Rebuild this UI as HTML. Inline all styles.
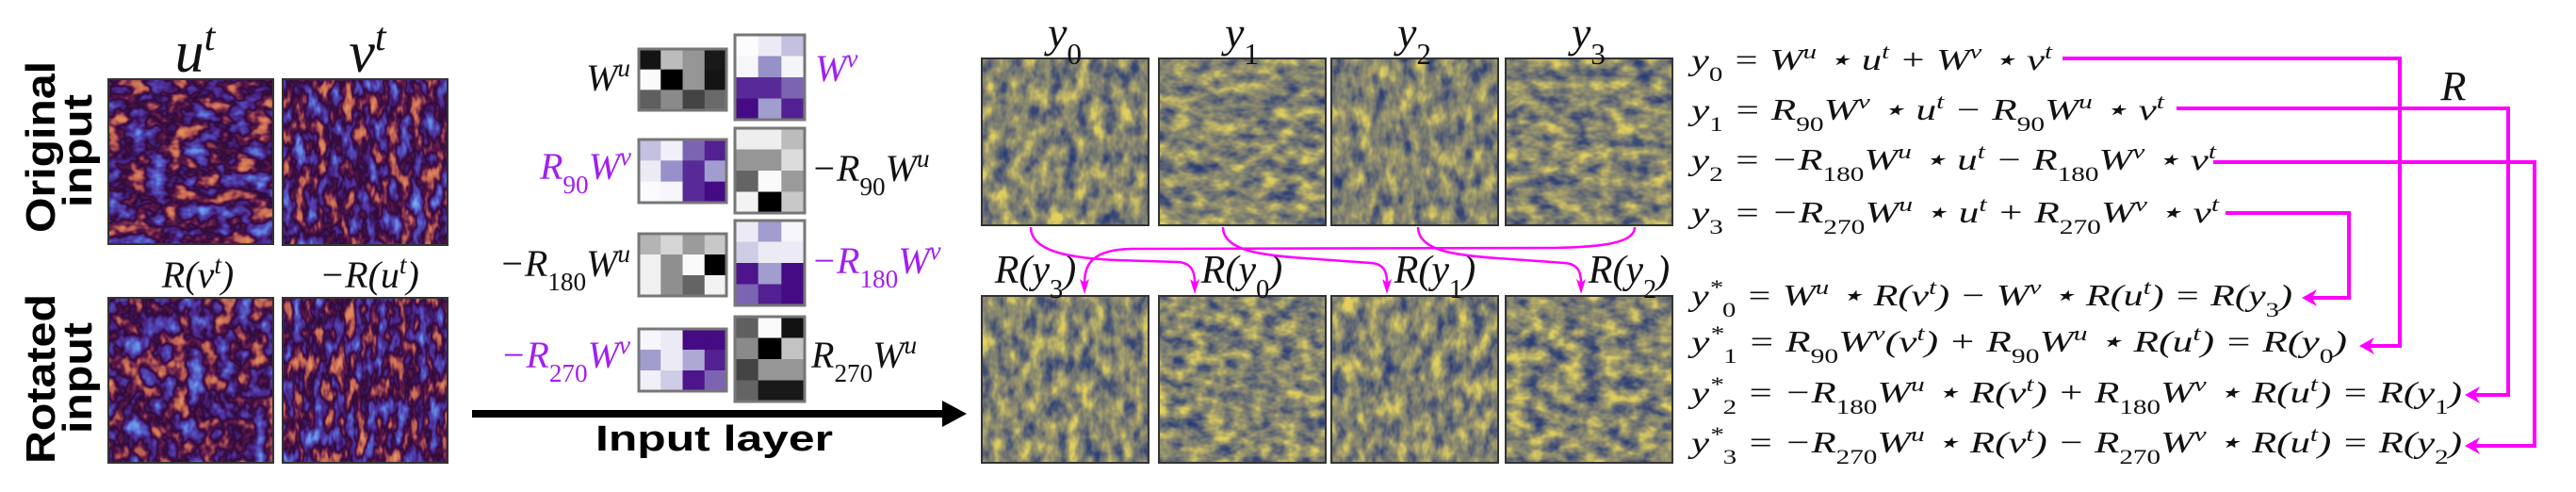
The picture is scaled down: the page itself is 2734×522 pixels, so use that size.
<!DOCTYPE html>
<html><head><meta charset="utf-8"><style>
html,body{margin:0;padding:0;background:#fff;}
svg{display:block;}
.m{font-family:"Liberation Serif","DejaVu Serif",serif;font-style:italic;fill:#111;}
.p{fill:#a020f0;}
.b{font-family:"Liberation Sans","DejaVu Sans",sans-serif;font-weight:bold;fill:#000;}
filter{color-interpolation-filters:sRGB;}
</style></head><body>
<svg id="fig" xmlns="http://www.w3.org/2000/svg" width="2734" height="522" viewBox="0 0 2734 522">
<defs></defs>
<g id="panels"></g>
<g id="kernels"></g>
<g id="texts"></g>
<g id="arrows"></g>
</svg>
<script>
const NS='http://www.w3.org/2000/svg';
const svg=document.getElementById('fig');
const defs=svg.querySelector('defs');
const TW_R=[0.5,0.45,0.38,0.32,0.3,0.18,0.38,0.74,0.86,0.9,0.9];
const TW_G=[0.7,0.65,0.52,0.3,0.15,0.04,0.1,0.38,0.52,0.6,0.6];
const TW_B=[0.95,0.92,0.88,0.72,0.55,0.22,0.3,0.32,0.35,0.4,0.4];
const CV_R=[0.14,0.14,0.2,0.3,0.42,0.52,0.62,0.75,0.87,0.9,0.9];
const CV_G=[0.22,0.22,0.27,0.34,0.44,0.52,0.6,0.71,0.8,0.82,0.82];
const CV_B=[0.46,0.46,0.46,0.46,0.45,0.44,0.42,0.4,0.37,0.36,0.36];
let fid=0;
function mkFilter(fx,fy,seed,R,G,B){
  const f=document.createElementNS(NS,'filter');
  const id='f'+(fid++);
  f.setAttribute('id',id);f.setAttribute('x','0');f.setAttribute('y','0');f.setAttribute('width','1');f.setAttribute('height','1');
  f.setAttribute('color-interpolation-filters','sRGB');
  f.innerHTML='<feTurbulence type="fractalNoise" baseFrequency="'+fx+' '+fy+'" numOctaves="3" seed="'+seed+'"/>'+
  '<feColorMatrix type="matrix" values="1 0 0 0 0 1 0 0 0 0 1 0 0 0 0 0 0 0 0 1"/>'+
  '<feComponentTransfer><feFuncR type="table" tableValues="'+R.join(' ')+'"/><feFuncG type="table" tableValues="'+G.join(' ')+'"/><feFuncB type="table" tableValues="'+B.join(' ')+'"/><feFuncA type="linear" slope="0" intercept="1"/></feComponentTransfer>';
  defs.appendChild(f);return id;
}
const panelsG=document.getElementById('panels');
function panel(name,x,y,w,h,fx,fy,seed,cm){
  const id=cm==='tw'?mkFilter(fx,fy,seed,TW_R,TW_G,TW_B):mkFilter(fx,fy,seed,CV_R,CV_G,CV_B);
  const r=document.createElementNS(NS,'rect');
  r.setAttribute('x',x);r.setAttribute('y',y);r.setAttribute('width',w);r.setAttribute('height',h);
  r.setAttribute('filter','url(#'+id+')');r.setAttribute('fill','#000');
  
  
  panelsG.appendChild(r);
  const b=document.createElementNS(NS,'rect');
  b.setAttribute('x',x);b.setAttribute('y',y);b.setAttribute('width',w);b.setAttribute('height',h);
  b.setAttribute('fill','none');b.setAttribute('stroke','#333');b.setAttribute('stroke-width','2');
  
  
  panelsG.appendChild(b);
}
panel('u-t-panel',115,84,175,175,0.045,0.06,3,'tw');
panel('v-t-panel',300,84,175,176,0.08,0.04,7,'tw');
panel('rotated-v-panel',115,316,175,175,0.06,0.045,11,'tw');
panel('rotated-u-panel',300,316,175,175,0.09,0.04,17,'tw');
const xs=[1042,1230,1413,1598];
const tops=[[0.07,0.045],[0.045,0.07],[0.07,0.045],[0.045,0.07]];
xs.forEach((x,i)=>{
  panel('y'+i+'-panel',x,62,177,177,tops[i][0],tops[i][1],20+i,'cv');
  panel('rotated-y-panel-'+i,x,314,177,177,i%2?0.05:0.075,i%2?0.07:0.045,40+i,'cv');
});

const K1=[[0.08,0.75,0.6,0.1],[1,0,0.6,0.08],[0.38,0.55,0.27,0.42]];
const K2=[[0,0.07,0.25],[0.02,0.45,0.03],[0.8,0.8,0.6],[0.95,0.4,0.85]];
const K3=[[0.25,0.05,0.6,0.85],[0.07,0.45,0.8,0.4],[0.01,0.02,0.8,0.95]];
const K4=[[0.95,0.95,0.75],[0.6,0.6,0.88],[0.4,1,0.62],[0.97,0,0.8]];
const K5=[[0.72,0.85,0.62,0.8],[0.96,0.57,1,0],[0.96,0.57,0.4,0.97]];
const K6=[[0.07,0.4,0.02],[0.2,0.07,0.07],[0.9,0.4,0.95],[0.6,0.85,0.95]];
const K7=[[0.02,0.07,0.95,0.95],[0.4,0.07,0.35,0.85],[0.05,0.2,0.9,0.6]];
const K8=[[0.38,1,0.07],[0.55,0,0.78],[0.27,0.6,0.6],[0.4,0.1,0.1]];
function purple(d){
  const st=[[0,252,251,253],[0.45,150,145,200],[0.8,88,42,152],[1,63,0,125]];
  for(let i=1;i<st.length;i++){if(d<=st[i][0]){const a=st[i-1],b=st[i],t=(d-a[0])/(b[0]-a[0]);
    return 'rgb('+[1,2,3].map(k=>Math.round(a[k]+(b[k]-a[k])*t)).join(',')+')';}}
  return 'rgb(63,0,125)';
}
function gray(v){const c=Math.round(v*250);return 'rgb('+c+','+c+','+c+')';}
const kG=document.getElementById('kernels');
function kernel(name,data,x,y,w,h,isP){
  const g=document.createElementNS(NS,'g');
  
  
  const rows=data.length,cols=data[0].length,cw=w/cols,ch=h/rows;
  data.forEach((row,r)=>row.forEach((v,c)=>{
    const e=document.createElementNS(NS,'rect');
    e.setAttribute('x',x+c*cw);e.setAttribute('y',y+r*ch);e.setAttribute('width',cw+0.5);e.setAttribute('height',ch+0.5);
    e.setAttribute('fill',isP?purple(v):gray(v));
    
    
    g.appendChild(e);
  }));
  const b=document.createElementNS(NS,'rect');
  b.setAttribute('x',x);b.setAttribute('y',y);b.setAttribute('width',w);b.setAttribute('height',h);
  b.setAttribute('fill','none');b.setAttribute('stroke','#777');b.setAttribute('stroke-width','3');
  g.appendChild(b);kG.appendChild(g);
}
kernel('kernel-wu',K1,678,52,93,65,false);
kernel('kernel-wv',K2,780,37,74,90,true);
kernel('kernel-r90-wv',K3,678,148,93,67,true);
kernel('kernel-neg-r90-wu',K4,780,136,74,90,false);
kernel('kernel-neg-r180-wu',K5,678,248,93,66,false);
kernel('kernel-neg-r180-wv',K6,780,234,74,90,true);
kernel('kernel-neg-r270-wv',K7,678,349,93,66,true);
kernel('kernel-r270-wu',K8,780,336,74,90,false);

const tG=document.getElementById('texts');
function md(s){
  return s.replace(/_\{([^}]*)\}/g,'<tspan baseline-shift="sub" font-size="68%" font-style="normal">$1</tspan>')
          .replace(/\^\{([^}]*)\}/g,'<tspan baseline-shift="super" font-size="68%">$1</tspan>');
}
function tx(name,s,x,y,size,opts){
  opts=opts||{};
  const t=document.createElementNS(NS,'text');
  t.setAttribute('x',x);t.setAttribute('y',y);t.setAttribute('font-size',size);
  t.setAttribute('class','m'+(opts.p?' p':''));
  if(opts.anchor)t.setAttribute('text-anchor',opts.anchor);
  if(opts.len){t.setAttribute('textLength',opts.len);t.setAttribute('lengthAdjust','spacingAndGlyphs');}
  t.innerHTML=md(s);
  
  
  tG.appendChild(t);return t;
}
tx('u-t-label','u^{t}',207,76,62,{anchor:'middle'});
tx('v-t-label','v^{t}',390,76,62,{anchor:'middle'});
tx('rotated-v-label','R(v^{t})',210,305,40,{anchor:'middle'});
tx('rotated-u-label','−R(u^{t})',392,305,40,{anchor:'middle'});
tx('wu-label','W^{u}',669,96,40,{anchor:'end'});
tx('wv-label','W^{v}',865,86,40,{p:1});
tx('r90-wv-label','R_{90}W^{v}',670,190,40,{anchor:'end',p:1});
tx('neg-r90-wu-label','−R_{90}W^{u}',861,192,40);
tx('neg-r180-wu-label','−R_{180}W^{u}',669,293,40,{anchor:'end'});
tx('neg-r180-wv-label','−R_{180}W^{v}',861,290,40,{p:1});
tx('neg-r270-wv-label','−R_{270}W^{v}',669,390,40,{anchor:'end',p:1});
tx('r270-wu-label','R_{270}W^{u}',861,390,40);
['y_{0}','y_{1}','y_{2}','y_{3}'].forEach((s,i)=>tx('y'+i+'-label',s,xs[i]+88,50,46,{anchor:'middle'}));
const rl=['R(y_{3})','R(y_{0})','R(y_{1})','R(y_{2})'];
const rlx=[1099,1318,1523,1729];
rl.forEach((s,i)=>tx('rotated-y-label-'+i,s,rlx[i],300,42,{anchor:'middle'}));
const eqs=['y_{0} = W^{u} ⋆ u^{t} + W^{v} ⋆ v^{t}',
'y_{1} = R_{90}W^{v} ⋆ u^{t} − R_{90}W^{u} ⋆ v^{t}',
'y_{2} = −R_{180}W^{u} ⋆ u^{t} − R_{180}W^{v} ⋆ v^{t}',
'y_{3} = −R_{270}W^{u} ⋆ u^{t} + R_{270}W^{v} ⋆ v^{t}',
'y^{*}_{0} = W^{u} ⋆ R(v^{t}) − W^{v} ⋆ R(u^{t}) = R(y_{3})',
'y^{*}_{1} = R_{90}W^{v}(v^{t}) + R_{90}W^{u} ⋆ R(u^{t}) = R(y_{0})',
'y^{*}_{2} = −R_{180}W^{u} ⋆ R(v^{t}) + R_{180}W^{v} ⋆ R(u^{t}) = R(y_{1})',
'y^{*}_{3} = −R_{270}W^{u} ⋆ R(v^{t}) − R_{270}W^{v} ⋆ R(u^{t}) = R(y_{2})'];
const eqY=[74,127,180,236,324,373,427,480];
const eqEnd=[2178,2297,2352,2355,2433,2491,2613,2613];
eqs.forEach((s,i)=>tx('equation-'+i,s,1795,eqY[i],32,{len:eqEnd[i]-1795}));
tx('rotation-r-label','R',2604,106,44,{anchor:'middle'});
function bt(name,s,x,y,size,len,rot){
  const t=document.createElementNS(NS,'text');
  t.setAttribute('class','b');t.setAttribute('font-size',size);
  t.setAttribute('text-anchor','middle');t.setAttribute('textLength',len);t.setAttribute('lengthAdjust','spacingAndGlyphs');
  if(rot){t.setAttribute('transform','translate('+x+','+y+') rotate(-90)');t.setAttribute('x',0);t.setAttribute('y',0);}
  else{t.setAttribute('x',x);t.setAttribute('y',y);}
  t.textContent=s;
  
  
  tG.appendChild(t);
}
bt('original-label','Original',58,156,44,182,true);
bt('original-input-label','input',97,160,44,120,true);
bt('rotated-label','Rotated',58,402,44,180,true);
bt('rotated-input-label','input',97,401,44,118,true);
bt('input-layer-label','Input layer',758,478,38,252,false);

const aG=document.getElementById('arrows');
function path(name,d,opts){
  const p=document.createElementNS(NS,'path');
  p.setAttribute('d',d);
  p.setAttribute('fill',opts.fill||'none');
  if(opts.stroke){p.setAttribute('stroke',opts.stroke);p.setAttribute('stroke-width',opts.w);}
  
  
  aG.appendChild(p);
}
const MG='#ff00ff';
path('input-layer-arrow-shaft','M501 439 L1005 439',{stroke:'#000',w:8});
path('input-layer-arrow-head','M1000 425 L1026 439 L1000 453 Z',{fill:'#000'});
path('curve-y0','M1094 241 C1094 268 1140 274 1185 276 L1250 278 C1266 279 1268 290 1268 300',{stroke:MG,w:2.5});
path('curve-y1','M1298 241 C1298 266 1340 271 1385 274 L1455 279 C1470 280 1472 290 1472 300',{stroke:MG,w:2.5});
path('curve-y2','M1505 241 C1505 266 1545 271 1590 274 L1660 279 C1676 280 1678 290 1678 300',{stroke:MG,w:2.5});
path('curve-y3','M1735 241 C1735 258 1700 262 1650 263 L1200 264 C1160 265 1151 280 1151 300',{stroke:MG,w:2.5});
[1268,1472,1678,1151].forEach((x,i)=>path('curve-head-'+i,'M'+(x-5)+' 296 L'+x+' 312 L'+(x+5)+' 296 L'+x+' 300 Z',{fill:MG}));
path('link-y0','M2189 62 L2547 62 L2547 367 L2512 367',{stroke:MG,w:4});
path('link-y1','M2310 115 L2662 115 L2662 419 L2626 419',{stroke:MG,w:4});
path('link-y2','M2349 172 L2690 172 L2690 473 L2626 473',{stroke:MG,w:4});
path('link-y3','M2362 226 L2493 226 L2493 316 L2452 316',{stroke:MG,w:4});
[[2504,367],[2616,419],[2616,473],[2443,316]].forEach((a,i)=>path('link-head-'+i,'M'+a[0]+' '+a[1]+' L'+(a[0]+16)+' '+(a[1]-9)+' L'+(a[0]+11)+' '+a[1]+' L'+(a[0]+16)+' '+(a[1]+9)+' Z',{fill:MG}));
</script>
</body></html>
